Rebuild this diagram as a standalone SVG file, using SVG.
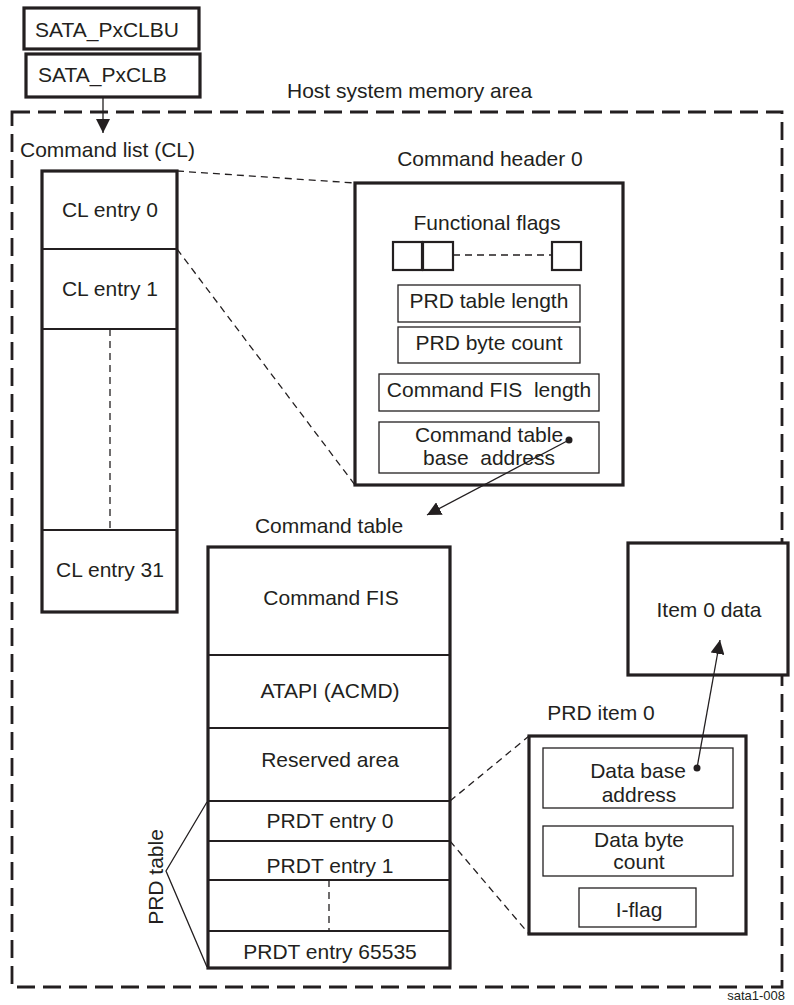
<svg xmlns="http://www.w3.org/2000/svg" width="794" height="1005" viewBox="0 0 794 1005">
<defs>
<style>
text{font-family:"Liberation Sans",Arial,sans-serif;font-size:21px;fill:#231f20}
.c{text-anchor:middle}
.pre{white-space:pre}
.thick{fill:#fff;stroke:#231f20;stroke-width:3.2}
.med{fill:none;stroke:#231f20;stroke-width:2.2}
.thin{fill:#fff;stroke:#231f20;stroke-width:1.3}
.dash{fill:none;stroke:#231f20;stroke-width:1.3;stroke-dasharray:7 5}
.line{fill:none;stroke:#231f20;stroke-width:1.3}
</style>
<marker id="ah" viewBox="0 0 14 14" refX="14" refY="7" markerWidth="14" markerHeight="14" markerUnits="userSpaceOnUse" orient="auto">
<path d="M0,0 L14,7 L0,14 Z" fill="#231f20"/>
</marker>
</defs>
<rect width="794" height="1005" fill="#fff"/>

<g id="host-area">
<rect x="12" y="112" width="770" height="875" fill="none" stroke="#231f20" stroke-width="2.8" stroke-dasharray="18 8"/>
<text x="287" y="98">Host system memory area</text>
</g>

<g id="pxclbu">
<rect class="thick" x="24" y="8" width="175" height="41"/>
<text x="35" y="37">SATA_PxCLBU</text>
</g>
<g id="pxclb">
<rect class="thick" x="26" y="54" width="174" height="43"/>
<text x="38" y="82">SATA_PxCLB</text>
</g>

<g id="command-list">
<text x="20" y="157">Command list (CL)</text>
<rect class="thick" x="42" y="171" width="135" height="441"/>
<line class="med" x1="42" y1="249" x2="177" y2="249" stroke-width="3.2"/>
<line class="med" x1="42" y1="329" x2="177" y2="329" stroke-width="3.2"/>
<line class="med" x1="42" y1="530" x2="177" y2="530" stroke-width="3.2"/>
<line class="dash" x1="110" y1="329" x2="110" y2="530"/>
<text class="c" x="110" y="217">CL entry 0</text>
<text class="c" x="110" y="296">CL entry 1</text>
<text class="c" x="110" y="577">CL entry 31</text>
</g>

<g id="command-header">
<text class="c" x="490" y="166">Command header 0</text>
<rect class="thick" x="355" y="183" width="268" height="302"/>
<text class="c" x="487" y="230">Functional flags</text>
<rect class="med" x="393" y="242" width="29" height="28" fill="#fff"/>
<rect class="med" x="423" y="242" width="30" height="28" fill="#fff"/>
<rect class="med" x="552" y="242" width="29" height="28" fill="#fff"/>
<line class="dash" x1="453" y1="255" x2="552" y2="255"/>
<rect class="thin" x="398" y="285" width="182" height="37"/>
<text class="c" x="489" y="308">PRD table length</text>
<rect class="thin" x="398" y="327" width="182" height="36"/>
<text class="c" x="489" y="350">PRD byte count</text>
<rect class="thin" x="379" y="374" width="220" height="37"/>
<text class="c pre" x="489" y="397">Command FIS  length</text>
<rect class="thin" x="379" y="422" width="220" height="51"/>
<text class="c" x="489" y="442">Command table</text>
<text class="c pre" x="489" y="465">base  address</text>
</g>

<g id="command-table">
<text class="c" x="329" y="533">Command table</text>
<rect class="thick" x="208" y="547" width="242" height="421" stroke-width="3.5"/>
<line class="med" x1="208" y1="655" x2="450" y2="655"/>
<line class="med" x1="208" y1="728" x2="450" y2="728"/>
<line class="med" x1="208" y1="801" x2="450" y2="801"/>
<line class="med" x1="208" y1="841" x2="450" y2="841"/>
<line class="med" x1="208" y1="880" x2="450" y2="880"/>
<line class="med" x1="208" y1="931" x2="450" y2="931"/>
<line class="dash" x1="329" y1="880" x2="329" y2="931" stroke-width="1.6"/>
<text class="c" x="331" y="605">Command FIS</text>
<text class="c" x="330" y="698">ATAPI (ACMD)</text>
<text class="c" x="330" y="767">Reserved area</text>
<text class="c" x="330" y="828">PRDT entry 0</text>
<text class="c" x="330" y="873">PRDT entry 1</text>
<text class="c" x="330" y="959">PRDT entry 65535</text>
</g>

<g id="prd-table-brace">
<polyline class="line" points="207,802 166,871 207,967"/>
<text class="c" transform="translate(163,877) rotate(-90)">PRD table</text>
</g>

<g id="item0-data">
<rect class="thick" x="628" y="543" width="160" height="132"/>
<text class="c" x="709" y="617">Item 0 data</text>
</g>

<g id="prd-item0">
<text class="c" x="601" y="720">PRD item 0</text>
<rect class="thick" x="529" y="736" width="217" height="198"/>
<rect class="thin" x="543" y="748" width="190" height="60"/>
<text class="c" x="638" y="778">Data base</text>
<text class="c" x="639" y="802">address</text>
<rect class="thin" x="543" y="826" width="190" height="50"/>
<text class="c" x="639" y="847">Data byte</text>
<text class="c" x="639" y="869">count</text>
<rect class="thin" x="579" y="888" width="117" height="39"/>
<text class="c" x="639" y="917">I-flag</text>
</g>

<g id="connectors">
<line class="line" x1="103" y1="97" x2="103" y2="133" marker-end="url(#ah)"/>
<line class="dash" x1="177" y1="171" x2="355" y2="183"/>
<line class="dash" x1="177" y1="249" x2="355" y2="485"/>
<line class="line" x1="569" y1="440" x2="427" y2="515" marker-end="url(#ah)"/>
<circle cx="569" cy="440" r="3.5" fill="#231f20"/>
<line class="dash" x1="450" y1="801" x2="529" y2="736"/>
<line class="dash" x1="450" y1="841" x2="529" y2="934"/>
<line class="line" x1="697" y1="768" x2="720" y2="640" marker-end="url(#ah)"/>
<circle cx="697" cy="768" r="3.5" fill="#231f20"/>
</g>

<text x="785" y="1000" style="font-size:13px;text-anchor:end">sata1-008</text>
</svg>
